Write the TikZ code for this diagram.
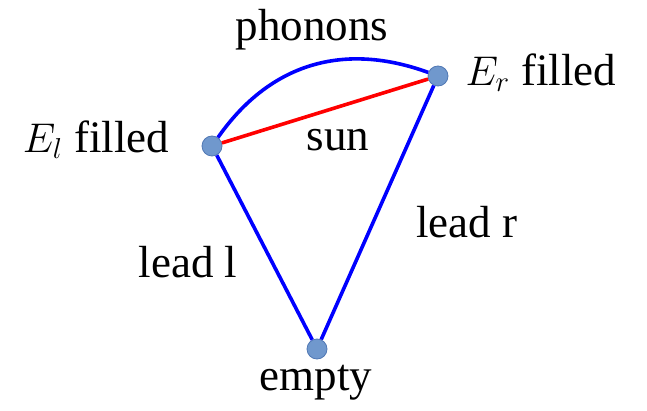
\documentclass[tikz,border=0pt]{standalone}
\usepackage{fontspec}
\setmainfont{Liberation Serif}
\usetikzlibrary{positioning, calc}

\definecolor{dotblue}{RGB}{112,152,205}
\definecolor{dotedge}{RGB}{80,120,180}

\tikzset{
    site/.style={circle, fill=dotblue, draw=dotedge, line width=0.4pt, minimum size=10pt, inner sep=0pt},
    leadline/.style={blue, line width=1.8pt},
    sunline/.style={red, line width=1.8pt},
    lbl/.style={font=\fontsize{22.5}{26}\selectfont, inner sep=0pt}
}

\begin{document}
\begin{tikzpicture}[x=0.5pt, y=-0.5pt]
    \useasboundingbox (0,0) rectangle (647,411);
    % sites
    \node[site] (left) at (212,146) {};
    \node[site] (right) at (438,76) {};
    \node[site] (bottom) at (317,349) {};
    % connections
    \draw[leadline] (left) -- (bottom);
    \draw[leadline] (bottom) -- (right);
    \draw[leadline] (left) to[out=55, in=160, looseness=1.05] (right);
    \draw[sunline] (left) -- (right);
    % labels
    \node[lbl] (lfill) at (96,140) {$E_l$ filled};
    \node[lbl] (rfill) at (541,73) {$E_r$ filled};
    \node[lbl] (phon) at (312,30) {phonons};
    \node[lbl] (sun) at (338,140) {sun};
    \node[lbl] (leadl) at (188,262) {lead l};
    \node[lbl] (leadr) at (467,222) {lead r};
    \node[lbl] (empty) at (316,383) {empty};
\end{tikzpicture}
\end{document}
